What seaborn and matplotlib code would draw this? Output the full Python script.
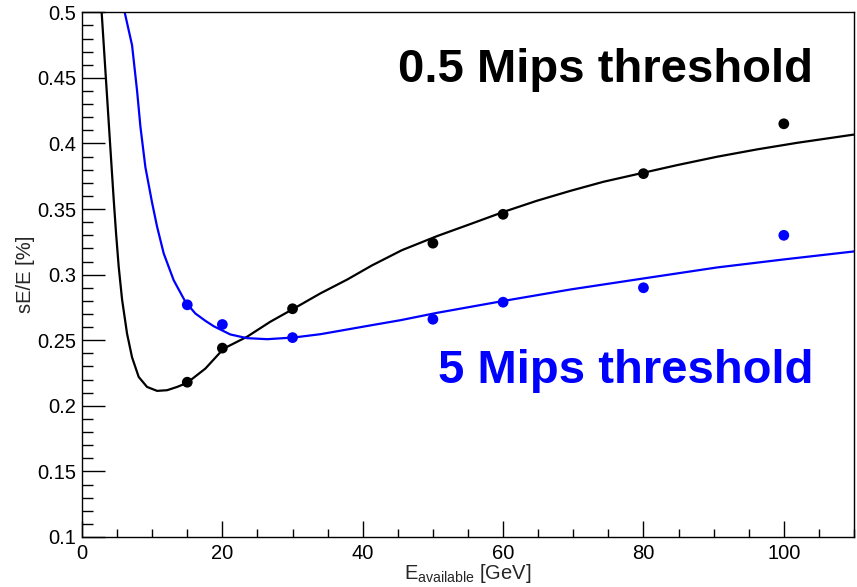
import matplotlib
matplotlib.use("Agg")
import matplotlib.pyplot as plt
from matplotlib.ticker import MultipleLocator
import pandas as pd
import seaborn as sns

# Measured resolution at each beam energy
energy = [15, 20, 30, 50, 60, 80, 100]
res_05mip = [0.218, 0.244, 0.274, 0.324, 0.346, 0.377, 0.415]
res_5mip = [0.277, 0.262, 0.252, 0.266, 0.279, 0.290, 0.330]

# Fitted resolution curves, sampled along the energy axis
fit05_e = [2.8, 3.4, 4.0, 4.52, 4.86, 5.23, 5.71, 6.42, 7.13, 8.08, 9.27, 10.70,
           12.12, 13.55, 14.97, 17.58, 20.2, 23.5, 26.8, 30.2, 33.96, 37.8, 41.3,
           45.6, 50.6, 55.3, 60.1, 64.8, 69.6, 74.3, 80.0, 84.8, 90.5, 96.2, 101.9, 110.0]
fit05_r = [0.5, 0.45, 0.4, 0.357, 0.331, 0.306, 0.281, 0.255, 0.237, 0.222, 0.2144, 0.2114,
           0.2119, 0.2144, 0.2175, 0.2284, 0.2437, 0.2526, 0.264, 0.2742, 0.2857, 0.2963, 0.307,
           0.3187, 0.3294, 0.3385, 0.3479, 0.3563, 0.3639, 0.3708, 0.3777, 0.3835, 0.3899, 0.3955,
           0.4005, 0.4068]
fit5_e = [6.08, 7.13, 7.85, 8.32, 9.03, 9.98, 10.70, 11.64, 13.06, 14.73, 16.15, 17.58,
          18.76, 21.14, 23.5, 26.4, 30.2, 33.96, 37.8, 41.3, 45.4, 50.6, 60.1, 69.6,
          80.0, 90.5, 100.0, 110.0]
fit5_r = [0.5, 0.475, 0.44, 0.413, 0.382, 0.355, 0.3365, 0.3162, 0.2958, 0.2793, 0.2704, 0.2648,
          0.2607, 0.2544, 0.2516, 0.2508, 0.2521, 0.2546, 0.2582, 0.2615, 0.2653, 0.2709, 0.280,
          0.2887, 0.2971, 0.3055, 0.3116, 0.3177]

labels = ["0.5 Mips threshold", "5 Mips threshold"]
colors = ["black", "#0000ff"]

sns.set_style("ticks")
plt.rcParams["font.family"] = ["Liberation Sans", "DejaVu Sans"]
plt.rcParams["mathtext.fontset"] = "custom"
plt.rcParams["mathtext.rm"] = "Liberation Sans"
plt.rcParams["mathtext.it"] = "Liberation Sans"

fig = plt.figure(figsize=(8.57, 5.87), dpi=100, facecolor="white")
ax = fig.add_axes([82 / 857, 1 - 537 / 587, (854 - 82) / 857, (537 - 12.3) / 587])
ax.set_facecolor("white")

points = pd.DataFrame({
    "energy": energy * 2,
    "res": res_05mip + res_5mip,
    "thr": [labels[0]] * len(energy) + [labels[1]] * len(energy),
})
fits = pd.DataFrame({
    "energy": fit05_e + fit5_e,
    "res": fit05_r + fit5_r,
    "thr": [labels[0]] * len(fit05_e) + [labels[1]] * len(fit5_e),
})
palette = dict(zip(labels, colors))

sns.lineplot(data=fits, x="energy", y="res", hue="thr", palette=palette,
             estimator=None, sort=False, linewidth=1.6, legend=False, ax=ax)
sns.scatterplot(data=points, x="energy", y="res", hue="thr", palette=palette,
                s=60, linewidth=0, legend=False, ax=ax, zorder=3)

ax.set_xlim(0, 110)
ax.set_ylim(0.1, 0.5)
ax.xaxis.set_major_locator(MultipleLocator(20))
ax.xaxis.set_minor_locator(MultipleLocator(5))
ax.yaxis.set_minor_locator(MultipleLocator(0.01))
ax.set_yticks([0.1, 0.15, 0.2, 0.25, 0.3, 0.35, 0.4, 0.45, 0.5])
ax.set_yticklabels(["0.1", "0.15", "0.2", "0.25", "0.3", "0.35", "0.4", "0.45", "0.5"])

ax.tick_params(axis="both", which="both", direction="in", top=False, right=False,
               width=1.0, colors="black", labelsize=14.5)
ax.tick_params(axis="y", which="major", length=16.5, pad=4)
ax.tick_params(axis="y", which="minor", length=8)
ax.tick_params(axis="x", which="major", length=11.5, pad=5)
ax.tick_params(axis="x", which="minor", length=6)

for side in ["left", "bottom", "top", "right"]:
    ax.spines[side].set_visible(True)
    ax.spines[side].set_linewidth(1.0)
    ax.spines[side].set_color("black")

ax.set_xlabel(r"E$_{\mathrm{available}}$ [GeV]", fontsize=14.5, labelpad=-1)
ax.set_ylabel("sE/E [%]", fontsize=14.5, labelpad=2)

ax.text(104.2, 0.4468, labels[0], color=colors[0], fontsize=34, fontweight="bold",
        ha="right", va="baseline")
ax.text(104.2, 0.2172, labels[1], color=colors[1], fontsize=34, fontweight="bold",
        ha="right", va="baseline")

fig.savefig("out.png", dpi=100, facecolor="white")
